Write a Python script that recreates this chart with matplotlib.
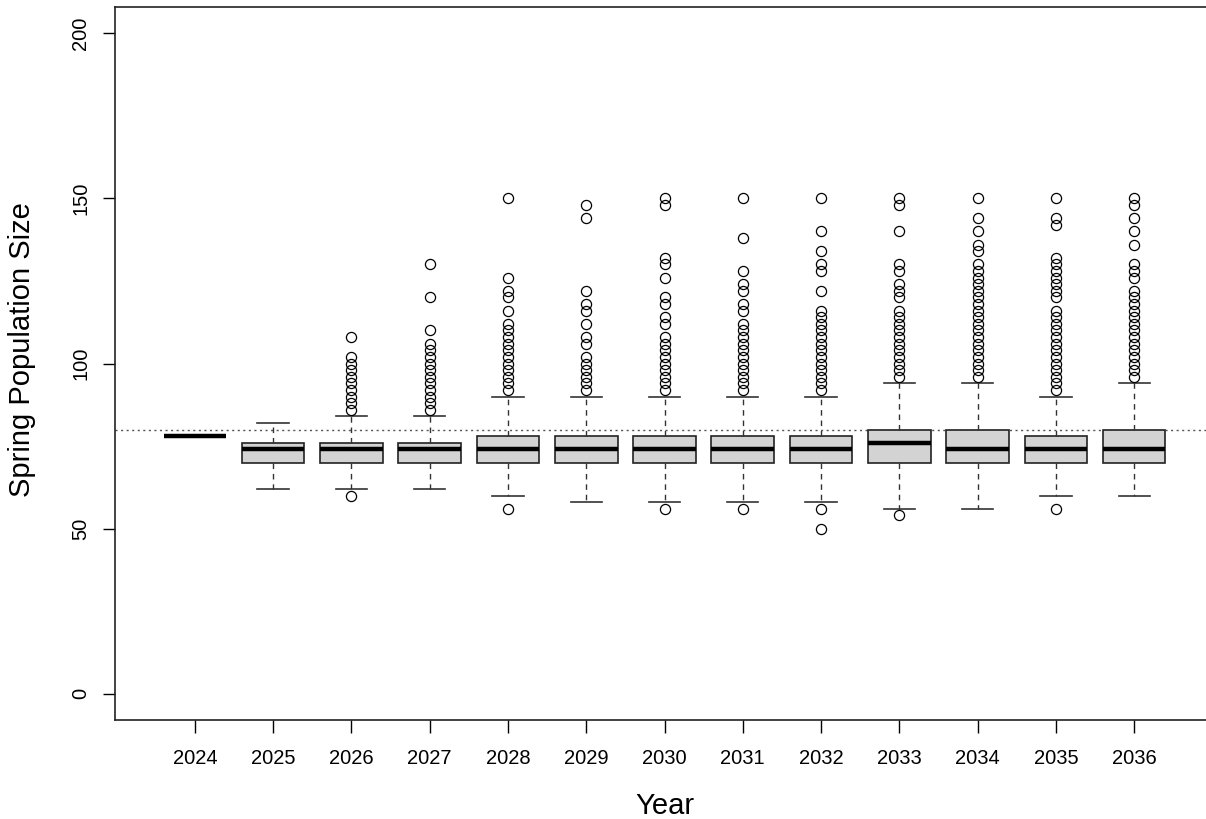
import numpy as np
import matplotlib
matplotlib.use("Agg")
import matplotlib.pyplot as plt

plt.rcParams['font.family'] = ['Liberation Sans', 'DejaVu Sans']

years = list(range(2024, 2037))
med    = [78, 74, 74, 74, 74, 74, 74, 74, 74, 76, 74, 74, 74]
q1     = [78, 70, 70, 70, 70, 70, 70, 70, 70, 70, 70, 70, 70]
q3     = [78, 76, 76, 76, 78, 78, 78, 78, 78, 80, 80, 78, 80]
whislo = [78, 62, 62, 62, 60, 58, 58, 58, 58, 56, 56, 60, 60]
whishi = [78, 82, 84, 84, 90, 90, 90, 90, 90, 94, 94, 90, 94]

fliers = [
    [],
    [],
    list(range(86, 103, 2)) + [108, 60],
    list(range(86, 107, 2)) + [110, 120, 130],
    list(range(92, 113, 2)) + [116, 120, 122, 126, 150, 56],
    [92, 94, 96, 98, 100, 102, 106, 108, 112, 116, 118, 122, 144, 148],
    list(range(92, 109, 2)) + [112, 114, 118, 120, 126, 130, 132, 148, 150, 56],
    list(range(92, 113, 2)) + [116, 118, 122, 124, 128, 138, 150, 56],
    list(range(92, 117, 2)) + [122, 128, 130, 134, 140, 150, 56, 50],
    list(range(96, 117, 2)) + [120, 122, 124, 128, 130, 140, 148, 150, 54],
    list(range(96, 131, 2)) + [134, 136, 140, 144, 150],
    list(range(92, 117, 2)) + list(range(120, 133, 2)) + [142, 144, 150, 56],
    list(range(96, 123, 2)) + [126, 128, 130, 136, 140, 144, 148, 150],
]

threshold = 80

stats = []
for i in range(len(years)):
    stats.append(dict(med=med[i], q1=q1[i], q3=q3[i], whislo=whislo[i],
                      whishi=whishi[i], fliers=fliers[i], label=str(years[i])))

fig = plt.figure(figsize=(12.06, 8.19), dpi=100)
W, H = 1206, 819
ax = fig.add_axes([115 / W, (H - 720) / H, (1214 - 115) / W, (720 - 7) / H])

pos = np.arange(1, len(years) + 1)
ax.axhline(threshold, color='#555555', linestyle=(0, (1.5, 2.5)), linewidth=1, zorder=1)

ax.bxp(stats, positions=pos, widths=0.8, patch_artist=True,
       boxprops=dict(facecolor='#D3D3D3', edgecolor='#222222', linewidth=1.2),
       medianprops=dict(color='black', linewidth=3.2, solid_capstyle='butt'),
       whiskerprops=dict(color='#333333', linewidth=1.0, linestyle=(0, (4, 3.5))),
       capprops=dict(color='#333333', linewidth=1.2),
       capwidths=0.4,
       flierprops=dict(marker='o', markersize=7.3, markerfacecolor='none',
                       markeredgecolor='black', markeredgewidth=0.9),
       zorder=2)

ax.set_xlim(-0.02, 14.02)
ax.set_ylim(-8, 208)
ax.set_xticks(pos)
ax.set_xticklabels([str(y) for y in years])
ax.set_yticks([0, 50, 100, 150, 200])
ax.set_yticklabels(['0', '50', '100', '150', '200'], rotation=90, va='center')

ax.tick_params(axis='x', length=9, width=1, pad=12, labelsize=14.5)
ax.tick_params(axis='y', length=9, width=1, pad=9, labelsize=14.5)
for s in ['left', 'bottom', 'top']:
    ax.spines[s].set_linewidth(1.2)
    ax.spines[s].set_color('#222222')
ax.spines['right'].set_visible(False)

ax.set_xlabel('Year', fontsize=21, labelpad=17)
ax.set_ylabel('Spring Population Size', fontsize=21)
ax.yaxis.set_label_coords(-0.072, 0.52)

fig.savefig('out.png', dpi=100)
